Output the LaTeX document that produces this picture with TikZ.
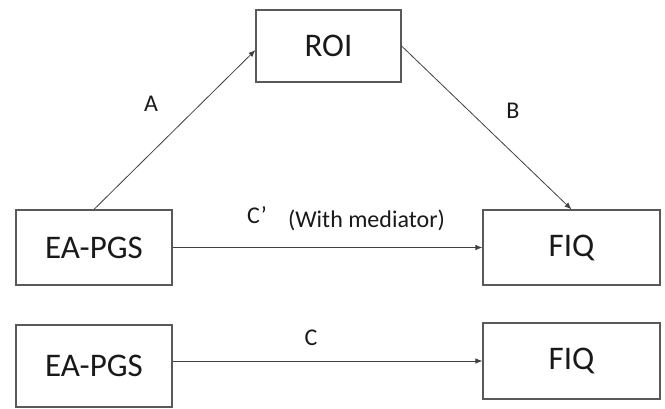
\documentclass[tikz,border=0pt]{standalone}
\usepackage{fontspec}
\setmainfont{Carlito}
\usetikzlibrary{arrows.meta}
\begin{document}
\begin{tikzpicture}[x=1pt,y=1pt,
  box/.style={draw=black!65,line width=1.2pt,inner sep=0pt,font=\fontsize{33}{38}\selectfont,text=black!90},
  conn/.style={draw=black!75,line width=0.8pt,-{Latex[length=7pt,width=5.5pt]}},
  lbl/.style={anchor=base,inner sep=0pt,font=\fontsize{24}{28}\selectfont,text=black!90}]
\useasboundingbox (0,0) rectangle (665,408);
\node[box,minimum width=145pt,minimum height=72pt] (roi) at (328.5,362) {ROI};
\node[box,minimum width=156pt,minimum height=75pt] (ea1) at (94,160.5) {EA-PGS};
\node[box,minimum width=177pt,minimum height=75pt] (fiq1) at (571.5,160.5) {FIQ};
\node[box,minimum width=156pt,minimum height=82pt] (ea2) at (94,42) {EA-PGS};
\node[box,minimum width=177pt,minimum height=76pt] (fiq2) at (571.5,47) {FIQ};
\draw[conn] (ea1.north) -- ([yshift=-4pt]roi.west);
\draw[conn] (roi.east) -- (fiq1.north);
\draw[conn] (ea1.east) -- (fiq1.west);
\draw[conn] (ea2.east |- fiq2.west) -- (fiq2.west);
\node[lbl] (la) at (151,296) {A};
\node[lbl] (lb) at (513,290) {B};
\node[lbl] (lcp) at (257,185) {C’};
\node[lbl] (lwm) at (366.5,181) {(With mediator)};
\node[lbl] (lc) at (311,63) {C};
\end{tikzpicture}
\end{document}
